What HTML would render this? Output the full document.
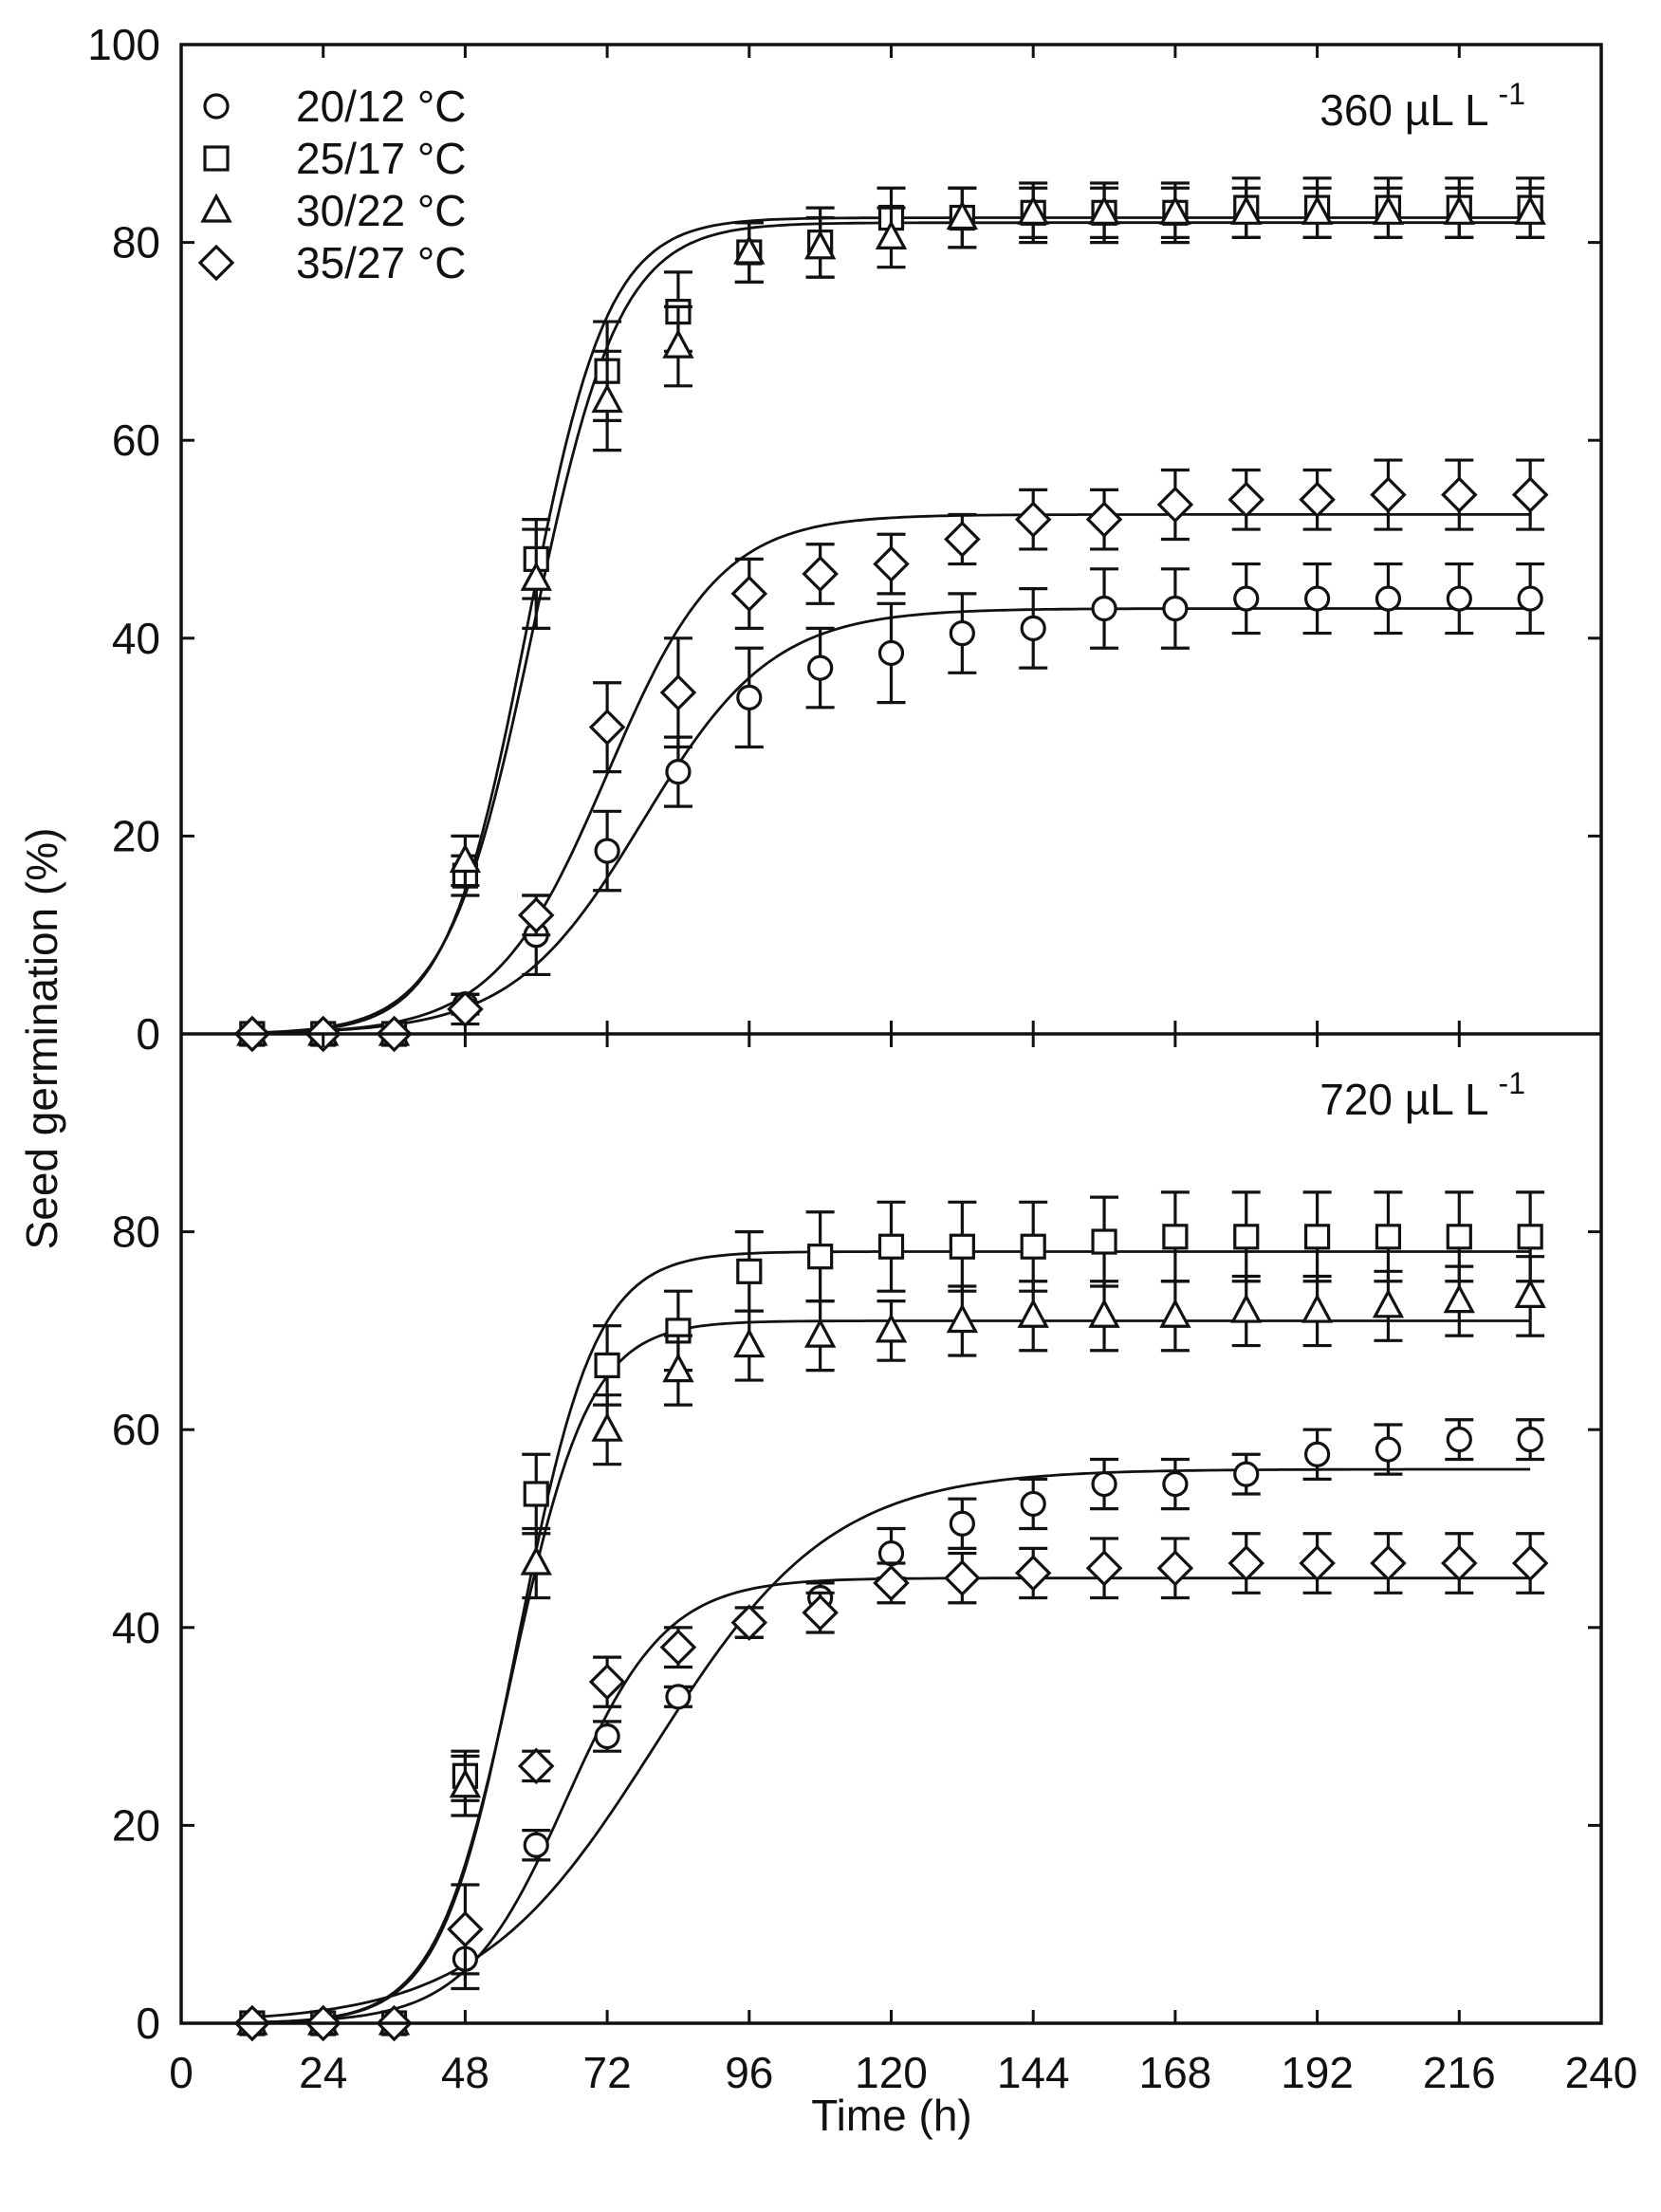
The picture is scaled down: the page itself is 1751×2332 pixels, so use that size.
<!DOCTYPE html>
<html><head><meta charset="utf-8"><style>
html,body{margin:0;padding:0;background:#fff;}
svg{display:block;font-family:"Liberation Sans",Arial,sans-serif;}
</style></head><body>
<svg id="chart" width="1751" height="2332" viewBox="0 0 1751 2332" xmlns="http://www.w3.org/2000/svg"></svg>
<script>
const times=[12,24,36,48,60,72,84,96,108,120,132,144,156,168,180,192,204,216,228];
const seriesNames=["20/12 °C","25/17 °C","30/22 °C","35/27 °C"];
const seriesShapes=["circle","square","triangle","diamond"];
// upper panel (360 µL L-1)
const upCircle=[0,0,0,3,10,18.5,26.5,34,37,38.5,40.5,41,43,43,44,44,44,44,44];
const upCircleErr=[0,0,0,1,4,4,3.5,5,4,5,4,4,4,4,3.5,3.5,3.5,3.5,3.5];
const upSquare=[0,0,0,16,48,67,73,79,80,82.5,82.5,83,83,83,83.5,83.5,83.5,83.5,83.5];
const upSquareErr=[0,0,0,2,4,5,4,3,3.5,3,3,3,3,3,3,3,3,3,3];
const upTriangle=[0,0,0,17.5,46,64,69.5,79,79.5,80.5,82.5,83,83,83,83,83,83,83,83];
const upTriangleErr=[0,0,0,2.5,5,5,4,3,3,3,3,2.5,2.5,2.5,2.5,2.5,2.5,2.5,2.5];
const upDiamond=[0,0,0,2.5,12,31,34.5,44.5,46.5,47.5,50,52,52,53.5,54,54,54.5,54.5,54.5];
const upDiamondErr=[0,0,0,1.5,2,4.5,5.5,3.5,3,3,2.5,3,3,3.5,3,3,3.5,3.5,3.5];
// lower panel (720 µL L-1)
const loCircle=[0,0,0,6.5,18,29,33,40.5,43,47.5,50.5,52.5,54.5,54.5,55.5,57.5,58,59,59];
const loCircleErr=[0,0,0,3,1.5,1.5,1,1.5,1.5,2.5,2.5,2.5,2.5,2.5,2,2.5,2.5,2,2];
const loSquare=[0,0,0,25,53.5,66.5,70,76,77.5,78.5,78.5,78.5,79,79.5,79.5,79.5,79.5,79.5,79.5];
const loSquareErr=[0,0,0,2.5,4,4,4,4,4.5,4.5,4.5,4.5,4.5,4.5,4.5,4.5,4.5,4.5,4.5];
const loTriangle=[0,0,0,24,46.5,60,66,68.5,69.5,70,71,71.5,71.5,71.5,72,72,72.5,73,73.5];
const loTriangleErr=[0,0,0,3,3.5,3.5,3.5,3.5,3.5,3,3.5,3.5,3.5,3.5,3.5,3.5,3.5,3.5,4];
const loDiamond=[0,0,0,9.5,26,34.5,38,40.5,41.5,44.5,45,45.5,46,46,46.5,46.5,46.5,46.5,46.5];
const loDiamondErr=[0,0,0,4.5,1.5,2.5,2,1.5,2,2,2.5,2.5,3,3,3,3,3,3,3];
// fitted sigmoid parameters [max, t50, slope]
const upFits=[[43,78,11],[82.5,58.5,6.8],[82,59.5,7.3],[52.5,72,9.5]];
const loFits=[[56,80,15],[78,57,6.5],[71,56,6.5],[45,65,8.5]];
const xTicks=[0,24,48,72,96,120,144,168,192,216,240];
const upYTicks=[0,20,40,60,80,100];
const loYTicks=[0,20,40,60,80];

const NS="http://www.w3.org/2000/svg";
const svg=document.getElementById('chart');
const L=191,R=1688,T=47,M=1090,B=2133;
const xs=t=>L+(t/240)*(R-L);
function mk(tag,at,parent){const e=document.createElementNS(NS,tag);for(const k in at)e.setAttribute(k,at[k]);(parent||svg).appendChild(e);return e;}
function txt(s,x,y,anchor,size,parent){const e=mk('text',{x:x,y:y,'text-anchor':anchor,'font-size':size,fill:'#111'},parent);e.textContent=s;return e;}

function marker(shape,x,y,g){
  const st={fill:'#fff',stroke:'#111','stroke-width':3.2};
  let e;
  if(shape==='circle'){e=mk('circle',Object.assign({cx:x,cy:y,r:12},st),g);}
  else if(shape==='square'){e=mk('rect',Object.assign({x:x-12,y:y-12,width:24,height:24},st),g);}
  else if(shape==='triangle'){e=mk('polygon',Object.assign({points:`${x},${y-15} ${x+14},${y+11} ${x-14},${y+11}`},st),g);}
  else {e=mk('polygon',Object.assign({points:`${x},${y-17} ${x+17},${y} ${x},${y+17} ${x-17},${y}`},st),g);}
  return e;
}

function panel(name,top,bot,sets,fits,yTicks,label){
  const ys=v=>bot-(v/100)*(bot-top);
  const g=mk('g',{});
  
  
  xTicks.forEach(t=>{if(t===0||t===240)return;
    mk('line',{x1:xs(t),x2:xs(t),y1:bot,y2:bot-14,stroke:'#111','stroke-width':3},g);
    mk('line',{x1:xs(t),x2:xs(t),y1:top,y2:top+14,stroke:'#111','stroke-width':3},g);});
  [20,40,60,80].forEach(v=>{
    mk('line',{x1:L,x2:L+14,y1:ys(v),y2:ys(v),stroke:'#111','stroke-width':3},g);
    mk('line',{x1:R,x2:R-14,y1:ys(v),y2:ys(v),stroke:'#111','stroke-width':3},g);});
  yTicks.forEach(v=>{const t=txt(String(v),L-22,ys(v)+16,'end',46,g);
    });
  fits.forEach((f,i)=>{let d='';for(let t=12;t<=228;t+=1){const v=f[0]/(1+Math.exp(-(t-f[1])/f[2]));d+=(t===12?'M':'L')+xs(t).toFixed(1)+','+ys(v).toFixed(1);}
    const p=mk('path',{d:d,fill:'none',stroke:'#111','stroke-width':2.8},g);
    });
  sets.forEach((s,i)=>{const vals=s[0],errs=s[1];
    times.forEach((t,j)=>{const x=xs(t),v=vals[j],e=errs[j];
      if(e>0){const eb=mk('path',{d:`M${x},${ys(v+e)}L${x},${ys(v-e)}M${x-15},${ys(v+e)}L${x+15},${ys(v+e)}M${x-15},${ys(v-e)}L${x+15},${ys(v-e)}`,stroke:'#111','stroke-width':3.2,fill:'none'},g);
        }
    });
    times.forEach((t,j)=>{const m=marker(seriesShapes[i],xs(t),ys(vals[j]),g);
      });
  });
  const lb=txt('',1608,top+85,'end',46,g);
  lb.innerHTML=label+' µL L<tspan dx="10" dy="-22" font-size="32">-1</tspan>';
  
}

panel('upper-panel',T,M,[[upCircle,upCircleErr],[upSquare,upSquareErr],[upTriangle,upTriangleErr],[upDiamond,upDiamondErr]],upFits,upYTicks,'360');
panel('lower-panel',M,B,[[loCircle,loCircleErr],[loSquare,loSquareErr],[loTriangle,loTriangleErr],[loDiamond,loDiamondErr]],loFits,loYTicks,'720');

const fr=mk('path',{d:`M${L},${T}H${R}V${B}H${L}Z M${L},${M}H${R}`,fill:'none',stroke:'#111','stroke-width':3.5});



xTicks.forEach(t=>{const e=txt(String(t),xs(t),2201,'middle',46);
  
  });

const xt=txt('Time (h)',940,2246,'middle',46);


const yt=txt('Seed germination (%)',0,0,'middle',46);
yt.setAttribute('transform','translate(60,1095) rotate(-90)');



const lg=mk('g',{});


seriesNames.forEach((n,i)=>{const y=112+i*55;
  const m=marker(seriesShapes[i],228,y,lg);
  
  
  const t=txt(n,312,y+16,'start',46,lg);
  
  });
</script>
</body></html>
